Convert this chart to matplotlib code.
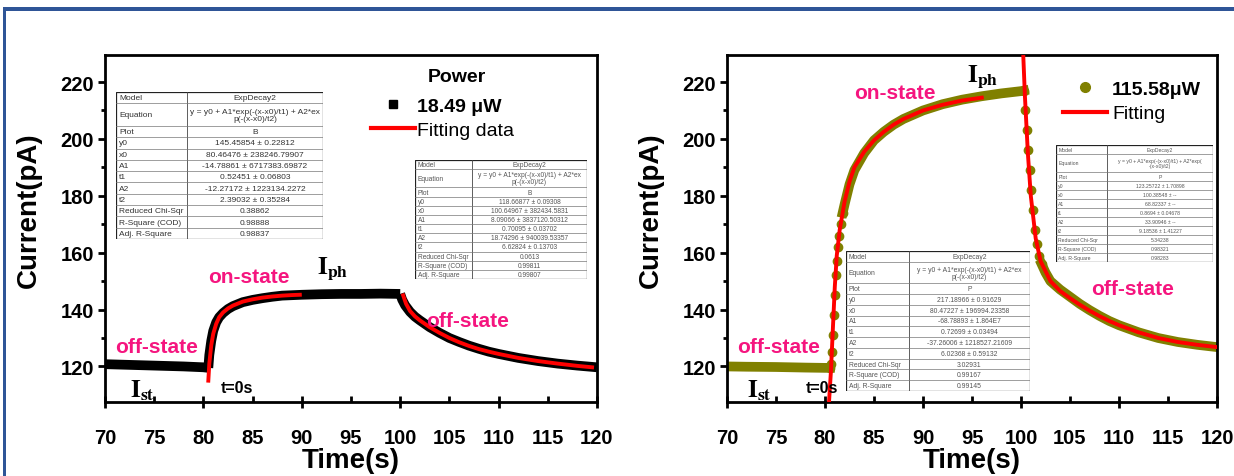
import matplotlib
matplotlib.use("Agg")
import matplotlib.pyplot as plt
from matplotlib.lines import Line2D
from matplotlib.patches import Rectangle

plt.rcParams['font.family'] = ['Liberation Sans', 'DejaVu Sans']
plt.rcParams['mathtext.fontset'] = 'stix'

# ---------------- data ----------------
# Left panel: 18.49 uW
L_pre_t = [70, 72, 74, 76, 78, 80, 80.5]
L_pre_i = [120.8, 120.6, 120.4, 120.2, 120.0, 119.7, 119.5]
L_on_t = [80.5, 80.6, 80.8, 81, 81.3, 81.6, 82, 82.5, 83, 84, 85, 86, 87, 88, 90, 92, 94, 96, 98, 100]
L_on_i = [119.5, 124, 129, 132.5, 135.5, 137.3, 138.8, 140.2, 141.2, 142.6, 143.4, 144.0, 144.5, 144.9,
          145.2, 145.4, 145.5, 145.5, 145.6, 145.5]
L_off_t = [100, 100.2, 100.5, 101, 101.5, 102, 103, 104, 105, 106, 107, 108, 109, 110, 112, 114, 116, 118, 120]
L_off_i = [145.5, 143.5, 141.5, 139.2, 137.5, 136.2, 133.8, 131.8, 130.0, 128.6, 127.3, 126.2, 125.2,
           124.4, 123.0, 121.9, 121.0, 120.3, 119.7]
L_fit_on_t = [80.5, 80.6, 80.8, 81, 81.3, 81.6, 82, 82.5, 83, 84, 85, 86, 87, 88, 89, 89.8]
L_fit_on_i = [115, 121, 127.5, 131.5, 135, 137.3, 139, 140.4, 141.4, 142.8, 143.6, 144.2, 144.6, 144.9,
              145.1, 145.2]
L_fit_off_t = [100.3, 100.6, 101, 101.5, 102, 103, 104, 105, 106, 107, 108, 109, 110, 112, 114, 116, 118, 119.5]
L_fit_off_i = [145, 142, 139.5, 137.6, 136.2, 133.8, 131.8, 130, 128.5, 127.2, 126.1, 125.2, 124.4,
               123, 121.9, 121, 120.2, 119.7]

# Right panel: 115.58 uW
R_pre_t = [70, 72, 75, 78, 80, 80.5]
R_pre_i = [120, 119.9, 119.8, 119.6, 119.5, 119.5]
R_rise_t = [80.5, 80.6, 80.7, 80.8, 80.9, 81.0, 81.1, 81.2, 81.3, 81.45, 81.6, 81.8]
R_rise_i = [119.5, 121, 125, 131, 138, 145, 152, 157, 162, 166, 170, 174]
R_on_t = [81.8, 82, 82.5, 83, 84, 85, 86, 87, 88, 90, 92, 94, 96, 98, 100, 100.3]
R_on_i = [174, 177, 184, 189, 195, 199.5, 202.5, 205, 207, 210, 212.2, 213.8, 215, 216, 216.8, 217]
R_drop_t = [100.3, 100.45, 100.6, 100.75, 100.9, 101.05, 101.2, 101.4, 101.6, 101.8, 102.1]
R_drop_i = [217, 210, 203, 196, 189, 182, 175, 168, 163, 159, 156]
R_off_t = [102.1, 102.5, 103, 104, 105, 106, 107, 108, 109, 110, 112, 114, 116, 118, 120]
R_off_i = [156, 153, 150, 147, 144.5, 142, 139.8, 137.8, 136, 134.5, 132, 130, 128.6, 127.6, 126.8]
R_fit_on_t = [80.4, 80.6, 80.8, 81.0, 81.2, 81.5, 82, 82.5, 83, 84, 85, 86, 87, 88, 90, 92, 94, 96]
R_fit_on_i = [107, 118, 133, 148, 159, 168, 178, 185, 190, 195.5, 199.5, 202.5, 205, 207, 210, 212, 213.5, 214.5]
R_fit_off_t = [100.2, 100.4, 100.7, 101, 101.5, 102, 103, 104, 105, 106, 107, 108, 109, 110, 112, 114, 116, 118, 120]
R_fit_off_i = [232, 215, 195, 180, 165, 157, 150, 146.5, 144, 141.7, 139.6, 137.7, 136, 134.5, 132, 130,
               128.6, 127.6, 126.8]

x_ticks_major = [70, 80, 90, 100, 110, 120]
x_ticks_minor = [75, 85, 95, 105, 115]
y_ticks_major = [120, 140, 160, 180, 200, 220]
y_ticks_minor = [130, 150, 170, 190, 210]

# fit tables
tab_labels = ['Model', 'Equation', 'Plot', 'y0', 'x0', 'A1', 't1', 'A2', 't2',
              'Reduced Chi-Sqr', 'R-Square (COD)', 'Adj. R-Square']
eq_ex = 'y = y0 + A1*exp(-(x-x0)/t1) + A2*ex\np(-(x-x0)/t2)'
eq_exp = 'y = y0 + A1*exp(-(x-x0)/t1) + A2*exp(\n-(x-x0)/t2)'
tab1_values = ['ExpDecay2', eq_ex, 'B', '145.45854 ± 0.22812', '80.46476 ± 238246.79907',
               '-14.78861 ± 6717383.69872', '0.52451 ± 0.06803', '-12.27172 ± 1223134.2272',
               '2.39032 ± 0.35284', '0.38862', '0.98888', '0.98837']
tab2_values = ['ExpDecay2', eq_ex, 'B', '118.66877 ± 0.09308', '100.64967 ± 382434.5831',
               '8.09066 ± 3837120.50312', '0.70095 ± 0.03702', '18.74296 ± 940039.53357',
               '6.62824 ± 0.13703', '0.0613', '0.99811', '0.99807']
tab3_values = ['ExpDecay2', eq_ex, 'P', '217.18966 ± 0.91629', '80.47227 ± 196994.23358',
               '-68.78893 ± 1.864E7', '0.72699 ± 0.03494', '-37.26006 ± 1218527.21609',
               '6.02368 ± 0.59132', '3.02931', '0.99167', '0.99145']
tab4_values = ['ExpDecay2', eq_exp, 'P', '123.25722 ± 1.70898', '100.38548 ± --',
               '68.82337 ± --', '0.8694 ± 0.04678', '33.90946 ± --', '9.18536 ± 1.41227',
               '5.34238', '0.98321', '0.98283']

PINK = '#f5157f'
OLIVE = '#808000'
W, H = 1234, 477

fig = plt.figure(figsize=(W / 100, H / 100), dpi=100)


def px_rect(x0, y0, x1, y1):
    return [x0 / W, 1 - y1 / H, (x1 - x0) / W, (y1 - y0) / H]


# blue frame
fig.add_artist(Rectangle((5 / W, 1 - 12 / H), 1, 4 / H, transform=fig.transFigure,
                         color='#2f5597', lw=0))
fig.add_artist(Rectangle((3 / W, 0), 3 / W, 1 - 8 / H, transform=fig.transFigure,
                         color='#2f5597', lw=0))

axL = fig.add_axes(px_rect(105, 56, 597, 403))
axR = fig.add_axes(px_rect(727, 56, 1217, 403))

for ax in (axL, axR):
    ax.set_xlim(70, 120)
    ax.set_ylim(107.5, 229.5)
    ax.set_xticks(x_ticks_major)
    ax.set_xticks(x_ticks_minor, minor=True)
    ax.set_xticklabels([str(v) for v in x_ticks_major])
    ax.set_xticklabels([str(v) for v in x_ticks_minor], minor=True)
    ax.set_yticks(y_ticks_major)
    ax.set_yticks(y_ticks_minor, minor=True)
    ax.tick_params(axis='x', which='major', direction='inout', length=8, width=2, pad=15,
                   labelsize=14.5)
    ax.tick_params(axis='x', which='minor', direction='in', length=4, width=2, pad=19,
                   labelsize=14.5)
    ax.tick_params(axis='y', which='major', direction='out', length=5, width=2, pad=3,
                   labelsize=14.5)
    ax.tick_params(axis='y', which='minor', direction='out', length=3, width=2)
    for lab in ax.get_xticklabels(which='both') + ax.get_yticklabels():
        lab.set_fontweight('bold')
    for sp in ax.spines.values():
        sp.set_linewidth(2)
    ax.set_xlabel('Time(s)', fontsize=20, fontweight='bold')
    ax.set_ylabel('Current(pA)', fontsize=20, fontweight='bold')
    ax.xaxis.set_label_coords(0.5, -0.13)
    ax.yaxis.set_label_coords(-0.128, 0.555)

# ---- left panel ----
for tt, ii in ((L_pre_t, L_pre_i), (L_on_t, L_on_i), (L_off_t, L_off_i)):
    axL.plot(tt, ii, color='black', lw=7, solid_capstyle='butt', zorder=2)
axL.plot(L_fit_on_t, L_fit_on_i, color='red', lw=2.8, zorder=3)
axL.plot(L_fit_off_t, L_fit_off_i, color='red', lw=2.8, zorder=3)

axL.text(0.02, 0.145, 'off-state', transform=axL.transAxes, color=PINK, fontsize=15,
         fontweight='bold')
axL.text(0.21, 0.345, 'on-state', transform=axL.transAxes, color=PINK, fontsize=15,
         fontweight='bold')
axL.text(0.653, 0.22, 'off-state', transform=axL.transAxes, color=PINK, fontsize=15,
         fontweight='bold')
axL.text(0.43, 0.37, r'$\mathbf{I_{ph}}$', transform=axL.transAxes, fontsize=18)
axL.text(0.05, 0.015, r'$\mathbf{I_{st}}$', transform=axL.transAxes, fontsize=18)
axL.text(0.235, 0.03, 't=0s', transform=axL.transAxes, fontsize=11.5, fontweight='bold')

axL.text(0.715, 0.937, 'Power', transform=axL.transAxes, fontsize=14, fontweight='bold',
         ha='center', va='center')
hL = [Line2D([], [], marker='s', color='black', ls='none', ms=6),
      Line2D([], [], color='red', lw=3)]
legL = axL.legend(hL, ['18.49 μW', 'Fitting data'], loc='upper left',
                  bbox_to_anchor=(0.52, 0.905), frameon=False, fontsize=14,
                  handlelength=2.3, handletextpad=0.1, borderpad=0, labelspacing=0.3)
legL.get_texts()[0].set_fontweight('bold')

# ---- right panel ----
axR.plot(R_pre_t, R_pre_i, color=OLIVE, lw=7, zorder=2)
axR.plot(R_rise_t, R_rise_i, color=OLIVE, ls='none', marker='o', ms=6, zorder=2)
axR.plot(R_on_t, R_on_i, color=OLIVE, lw=7, zorder=2)
axR.plot(R_drop_t, R_drop_i, color=OLIVE, ls='none', marker='o', ms=6, zorder=2)
axR.plot(R_off_t, R_off_i, color=OLIVE, lw=7, zorder=2)
axR.plot(R_fit_on_t, R_fit_on_i, color='red', lw=2.8, zorder=3)
axR.plot(R_fit_off_t, R_fit_off_i, color='red', lw=2.8, zorder=3)

axR.text(0.02, 0.145, 'off-state', transform=axR.transAxes, color=PINK, fontsize=15,
         fontweight='bold')
axR.text(0.26, 0.875, 'on-state', transform=axR.transAxes, color=PINK, fontsize=15,
         fontweight='bold')
axR.text(0.743, 0.31, 'off-state', transform=axR.transAxes, color=PINK, fontsize=15,
         fontweight='bold')
axR.text(0.49, 0.925, r'$\mathbf{I_{ph}}$', transform=axR.transAxes, fontsize=18)
axR.text(0.04, 0.015, r'$\mathbf{I_{st}}$', transform=axR.transAxes, fontsize=18)
axR.text(0.16, 0.03, 't=0s', transform=axR.transAxes, fontsize=11.5, fontweight='bold')

hR = [Line2D([], [], marker='o', color=OLIVE, ls='none', ms=7),
      Line2D([], [], color='red', lw=3)]
legR = axR.legend(hR, ['115.58μW', 'Fitting'], loc='upper left',
                  bbox_to_anchor=(0.665, 0.955), frameon=False, fontsize=14,
                  handlelength=2.3, handletextpad=0.25, borderpad=0, labelspacing=0.35)
legR.get_texts()[0].set_fontweight('bold')


# ---- fit-result tables ----
def draw_table(rect, values, split, fs, tcolor):
    tax = fig.add_axes(px_rect(*rect), zorder=5)
    tax.set_xlim(0, 1)
    tax.set_ylim(13, 0)
    tax.axis('off')
    tax.add_patch(Rectangle((0, 0), 1, 13, facecolor='white', edgecolor='#222222', lw=0.9))
    tax.plot([split, split], [0, 13], color='#444444', lw=0.6)
    y = 0
    for k, (lab, val) in enumerate(zip(tab_labels, values)):
        h = 2 if k == 1 else 1
        if k > 0:
            tax.plot([0, 1], [y, y], color='#777777', lw=0.5)
        yc = y + h / 2
        tax.text(0.015, yc, lab, ha='left', va='center', fontsize=fs, color=tcolor)
        tax.text((split + 1) / 2, yc, val, ha='center', va='center', fontsize=fs,
                 color=tcolor, linespacing=1.0)
        y += h


draw_table((116, 93, 323, 240), tab1_values, 0.343, 6.0, '#333333')
draw_table((415, 161, 587, 280), tab2_values, 0.331, 4.8, '#555555')
draw_table((846, 252, 1030, 392), tab3_values, 0.342, 4.9, '#555555')
draw_table((1056, 146, 1213, 263), tab4_values, 0.327, 3.7, '#555555')

fig.savefig('out.png', dpi=100)
